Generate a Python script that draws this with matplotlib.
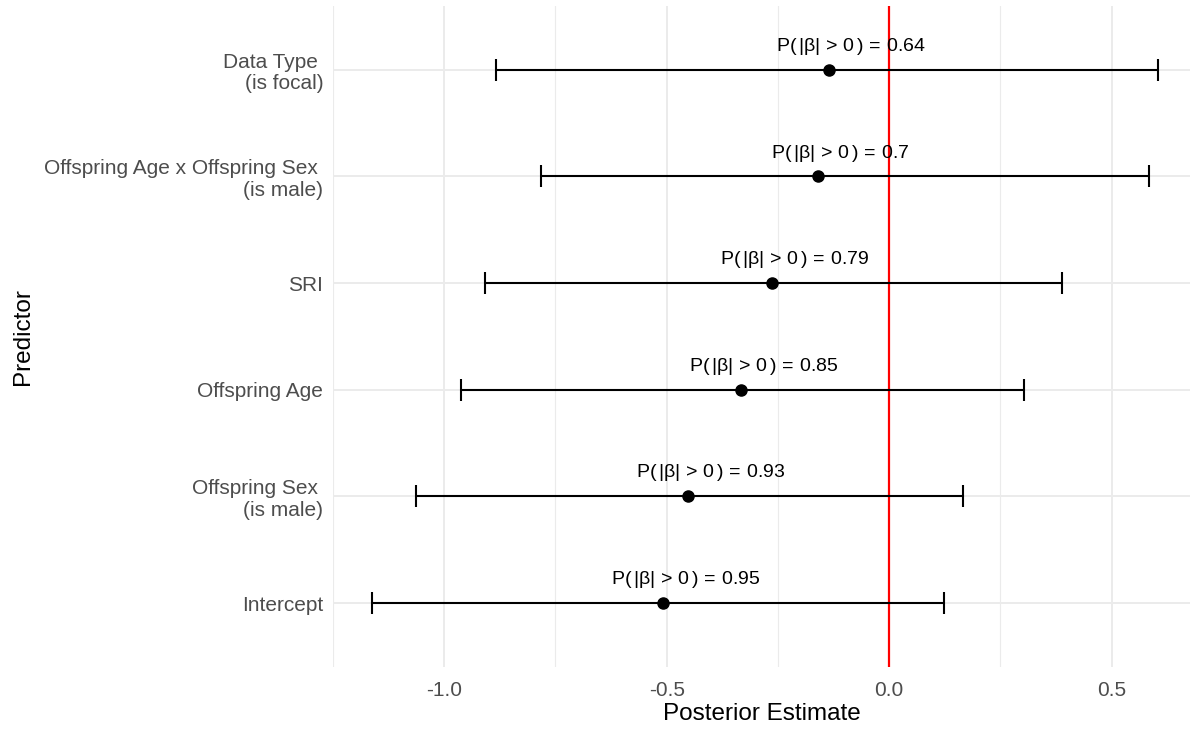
import matplotlib
matplotlib.use("Agg")
import matplotlib.pyplot as plt
from matplotlib.ticker import MultipleLocator
import numpy as np

plt.rcParams["font.family"] = ["Liberation Sans", "DejaVu Sans"]
plt.rcParams["axes.unicode_minus"] = False
plt.rcParams["mathtext.fontset"] = "custom"
plt.rcParams["mathtext.rm"] = "Liberation Sans"
plt.rcParams["mathtext.it"] = "Liberation Sans"
plt.rcParams["mathtext.bf"] = "Liberation Sans:bold"

# posterior summaries, bottom row first
predictors = ["Intercept", "Offspring Sex \n(is male)", "Offspring Age", "SRI",
              "Offspring Age x Offspring Sex \n(is male)", "Data Type \n(is focal)"]
estimate = [-0.508, -0.452, -0.333, -0.263, -0.160, -0.135]
lower = [-1.162, -1.063, -0.962, -0.908, -0.782, -0.883]
upper = [0.124, 0.166, 0.303, 0.389, 0.584, 0.604]
prob_nonzero = ["0.95", "0.93", "0.85", "0.79", "0.7", "0.64"]

GRID = "#EBEBEB"
TICK = "#4D4D4D"

fig = plt.figure(figsize=(11.91, 7.29), dpi=100)
ax = fig.add_axes([0.2796, 0.085, 0.7195, 0.907])

ypos = np.arange(1, len(predictors) + 1)
est = np.array(estimate)
err = [est - np.array(lower), np.array(upper) - est]

ax.axvline(0, color="#FF0000", lw=1.6, zorder=3)
ax.errorbar(est, ypos, xerr=err, fmt="o", color="black", ms=8,
            ecolor="black", elinewidth=1.5, capsize=8, capthick=1.5, zorder=4)

for x, y, p in zip(estimate, ypos, prob_nonzero):
    ax.text(x + 0.05, y + 0.22,
            r"$\mathrm{P}\left(\,|\beta|\,>\,0\,\right)\,=\,%s$" % p,
            ha="center", va="center", fontsize=14, color="black", zorder=5)

ax.set_xlim(-1.25, 0.676)
ax.set_ylim(0.4, 6.6)
ax.set_yticks(ypos)
ax.set_yticklabels(predictors, ha="right", linespacing=1.15)
ax.xaxis.set_major_locator(MultipleLocator(0.5))
ax.xaxis.set_minor_locator(MultipleLocator(0.25))
ax.grid(which="major", color=GRID, lw=1.4)
ax.grid(which="minor", axis="x", color=GRID, lw=0.8)
ax.set_axisbelow(True)
for s in ax.spines.values():
    s.set_visible(False)
ax.tick_params(which="both", length=0, labelsize=15, labelcolor=TICK, pad=7)
ax.tick_params(axis="x", pad=10)
ax.set_xlabel("Posterior Estimate", fontsize=17.5, labelpad=2)
ax.set_ylabel("Predictor", fontsize=17.5, labelpad=7)

fig.savefig("out.png", dpi=100, facecolor="white")
